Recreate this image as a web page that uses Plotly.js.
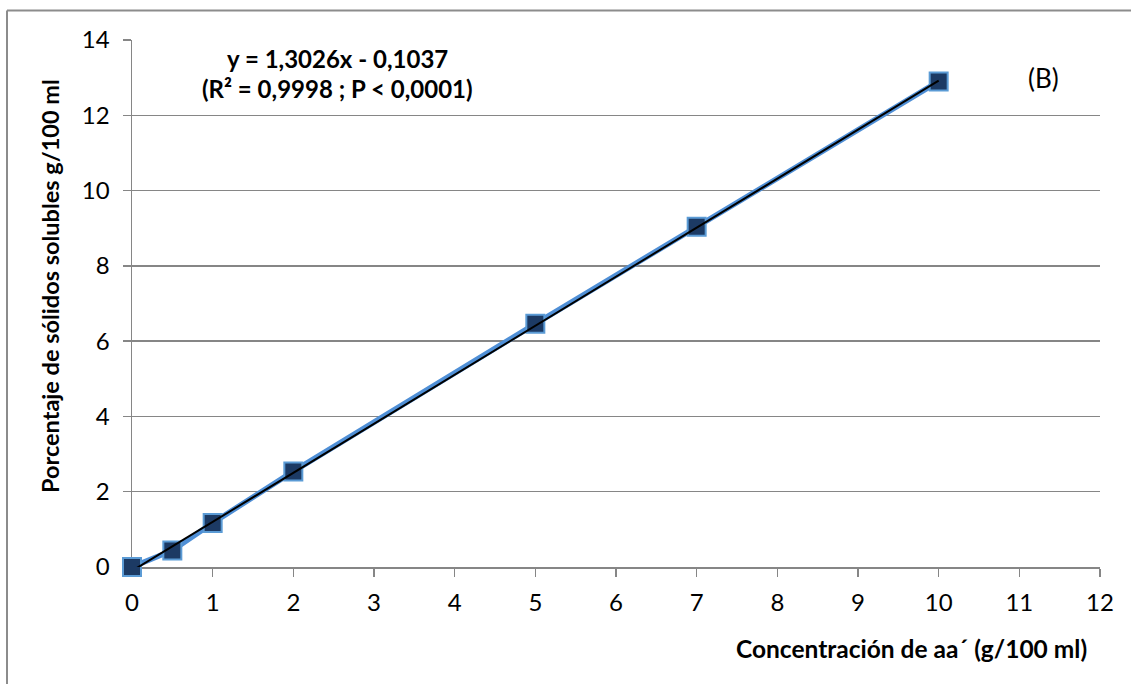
<!DOCTYPE html>
<html>
<head>
<meta charset="utf-8">
<script src="https://cdn.plot.ly/plotly-3.0.1.min.js"></script>
<style>
  html, body { margin: 0; padding: 0; background: #ffffff; overflow: hidden; }
  #chart { width: 1131px; height: 684px; overflow: hidden; }
</style>
</head>
<body>
<div id="chart"></div>
<script>
// Concentración de aa´ (g/100 ml) and measured soluble solids (g/100 ml)
const concentracion = [0, 0.5, 1, 2, 5, 7, 10];
const solidosSolubles = [0, 0.44, 1.17, 2.54, 6.46, 9.04, 12.9];

// Linear fit reported on the chart
const pendiente = 1.3026;
const intercepto = -0.1037;
const ajusteX = [0, 10];

const xTicks = [0, 1, 2, 3, 4, 5, 6, 7, 8, 9, 10, 11, 12];
const yTicks = [0, 2, 4, 6, 8, 10, 12, 14];

const ecuacionTexto = 'y = 1,3026x - 0,1037';
const estadisticoTexto = '(R² = 0,9998 ; P < 0,0001)';
const panelTexto = '(B)';
const tituloX = 'Concentración de aa´ (g/100 ml)';
const tituloY = 'Porcentaje de sólidos solubles g/100 ml';

const FONT = 'Lato, "Open Sans", sans-serif';
const GRID = '#868686';

const ajusteY = ajusteX.map(x => pendiente * x + intercepto);

// plot-area geometry in pixels, used to place the free text
const L = 132, T = 40, W = 968, H = 527;
const px = x => (x - L) / W;
const py = y => (T + H - y) / H;

const traces = [
  {
    x: concentracion,
    y: solidosSolubles,
    type: 'scatter',
    mode: 'lines+markers',
    cliponaxis: false,
    line: { color: '#4f8fd6', width: 5.5 },
    marker: {
      symbol: 'square',
      size: 18,
      color: '#1c3a64',
      line: { color: '#5b9bd5', width: 2 }
    },
    hoverinfo: 'x+y'
  },
  {
    x: ajusteX,
    y: ajusteY,
    type: 'scatter',
    mode: 'lines',
    cliponaxis: false,
    line: { color: '#000000', width: 2 },
    hoverinfo: 'skip'
  }
];

const layout = {
  width: 1131,
  height: 684,
  paper_bgcolor: '#ffffff',
  plot_bgcolor: '#ffffff',
  showlegend: false,
  margin: { l: L, r: 1131 - L - W, t: T, b: 684 - T - H },
  font: { family: FONT, size: 24, color: '#000000' },
  xaxis: {
    range: [0, 12],
    tickvals: xTicks,
    ticktext: xTicks.map(String),
    showgrid: false,
    zeroline: false,
    showline: true,
    linecolor: GRID,
    linewidth: 1.5,
    ticks: 'outside',
    ticklen: 8,
    tickcolor: GRID,
    tickwidth: 1.5,
    tickfont: { family: FONT, size: 24, color: '#000000' },
    ticklabelstandoff: 6,
    layer: 'below traces',
    fixedrange: true
  },
  yaxis: {
    range: [0, 14],
    tickvals: yTicks,
    ticktext: yTicks.map(String),
    showgrid: true,
    gridcolor: GRID,
    gridwidth: 1.5,
    zeroline: false,
    showline: true,
    linecolor: GRID,
    linewidth: 1.5,
    ticks: 'outside',
    ticklen: 8,
    tickcolor: GRID,
    tickwidth: 1.5,
    tickfont: { family: FONT, size: 24, color: '#000000' },
    ticklabelstandoff: 8,
    layer: 'below traces',
    fixedrange: true
  },
  shapes: [
    // chart frame: its left and top edges
    {
      type: 'line', xref: 'paper', yref: 'paper',
      x0: px(7), x1: px(7), y0: py(684), y1: py(10.5),
      line: { color: '#8c8c8c', width: 2 },
      layer: 'below'
    },
    {
      type: 'line', xref: 'paper', yref: 'paper',
      x0: px(7), x1: px(1131), y0: py(10.5), y1: py(10.5),
      line: { color: '#8c8c8c', width: 2 },
      layer: 'below'
    }
  ],
  annotations: [
    {
      text: '<b>' + ecuacionTexto + '</b>',
      xref: 'paper', yref: 'paper',
      x: px(337), y: py(59),
      xanchor: 'center', yanchor: 'middle',
      showarrow: false,
      font: { family: FONT, size: 24, color: '#000000' }
    },
    {
      text: '<b>' + estadisticoTexto + '</b>',
      xref: 'paper', yref: 'paper',
      x: px(337), y: py(88),
      xanchor: 'center', yanchor: 'middle',
      showarrow: false,
      font: { family: FONT, size: 24, color: '#000000' }
    },
    {
      text: panelTexto,
      xref: 'paper', yref: 'paper',
      x: px(1043), y: py(78),
      xanchor: 'center', yanchor: 'middle',
      showarrow: false,
      font: { family: FONT, size: 26, color: '#000000' }
    },
    {
      text: '<b>' + tituloX + '</b>',
      xref: 'paper', yref: 'paper',
      x: px(1089), y: py(648),
      xanchor: 'right', yanchor: 'middle',
      showarrow: false,
      font: { family: FONT, size: 24.5, color: '#000000' }
    },
    {
      text: '<b>' + tituloY + '</b>',
      xref: 'paper', yref: 'paper',
      x: px(50), y: py(286),
      xanchor: 'center', yanchor: 'middle',
      textangle: -90,
      showarrow: false,
      font: { family: FONT, size: 23.5, color: '#000000' }
    }
  ]
};

Plotly.newPlot('chart', traces, layout, { displayModeBar: false, staticPlot: true });
</script>
</body>
</html>
